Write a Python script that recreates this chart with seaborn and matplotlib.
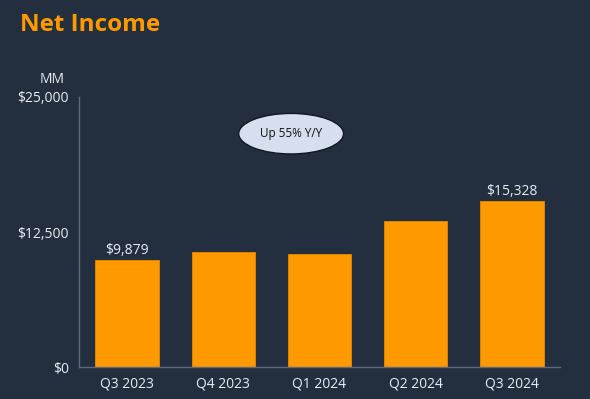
import matplotlib
matplotlib.use("Agg")
import matplotlib.pyplot as plt
from matplotlib.patches import Ellipse
import seaborn as sns
import pandas as pd

quarters = ["Q3 2023", "Q4 2023", "Q1 2024", "Q2 2024", "Q3 2024"]
net_income = [9879, 10624, 10431, 13485, 15328]
labelled = {0: "$9,879", 4: "$15,328"}
y_ticks = [0, 12500, 25000]
y_tick_labels = ["$0", "$12,500", "$25,000"]

BG = "#232f3e"
ORANGE = "#ff9900"
TXT = "#e8edf3"
AXC = "#5d6a7a"

sns.set_theme(style="white")
plt.rcParams["font.family"] = ["Open Sans", "DejaVu Sans"]

df = pd.DataFrame({"quarter": quarters, "value": net_income})

fig = plt.figure(figsize=(5.9, 3.99), dpi=100, facecolor=BG)
ax = fig.add_axes([0.134, 0.080, 0.815, 0.677])
ax.set_facecolor(BG)

sns.barplot(data=df, x="quarter", y="value", color=ORANGE, saturation=1,
            width=0.66, ax=ax, edgecolor="#e68a00", linewidth=0.6)

for i, txt in labelled.items():
    ax.text(i, net_income[i] + 250, txt, ha="center", va="bottom",
            color=TXT, fontsize=10)

ax.set_xlim(-0.5, 4.5)
ax.set_ylim(0, 25000)
ax.set_yticks(y_ticks)
ax.set_yticklabels(y_tick_labels)
ax.set_xlabel("")
ax.set_ylabel("")
ax.tick_params(axis="both", colors=AXC, labelcolor=TXT, labelsize=10,
               length=4, width=0.8)
ax.tick_params(axis="x", length=3)
for s in ["top", "right"]:
    ax.spines[s].set_visible(False)
for s in ["left", "bottom"]:
    ax.spines[s].set_color(AXC)
    ax.spines[s].set_linewidth(1.0)

ell = Ellipse((1.705, 21600), 1.09, 3750, facecolor="#d6dfee",
              edgecolor="#111820", linewidth=1.0, zorder=5)
ax.add_patch(ell)
ax.text(1.705, 21600, "Up 55% Y/Y", ha="center", va="center",
        color="#111111", fontsize=8.5, zorder=6)

fig.text(0.034, 0.938, "Net Income", color=ORANGE, fontsize=17.5,
         fontweight="bold", ha="left", va="center")
fig.text(0.088, 0.800, "MM", color=TXT, fontsize=10, ha="center",
         va="center")

fig.savefig("out.png", dpi=100, facecolor=BG)
